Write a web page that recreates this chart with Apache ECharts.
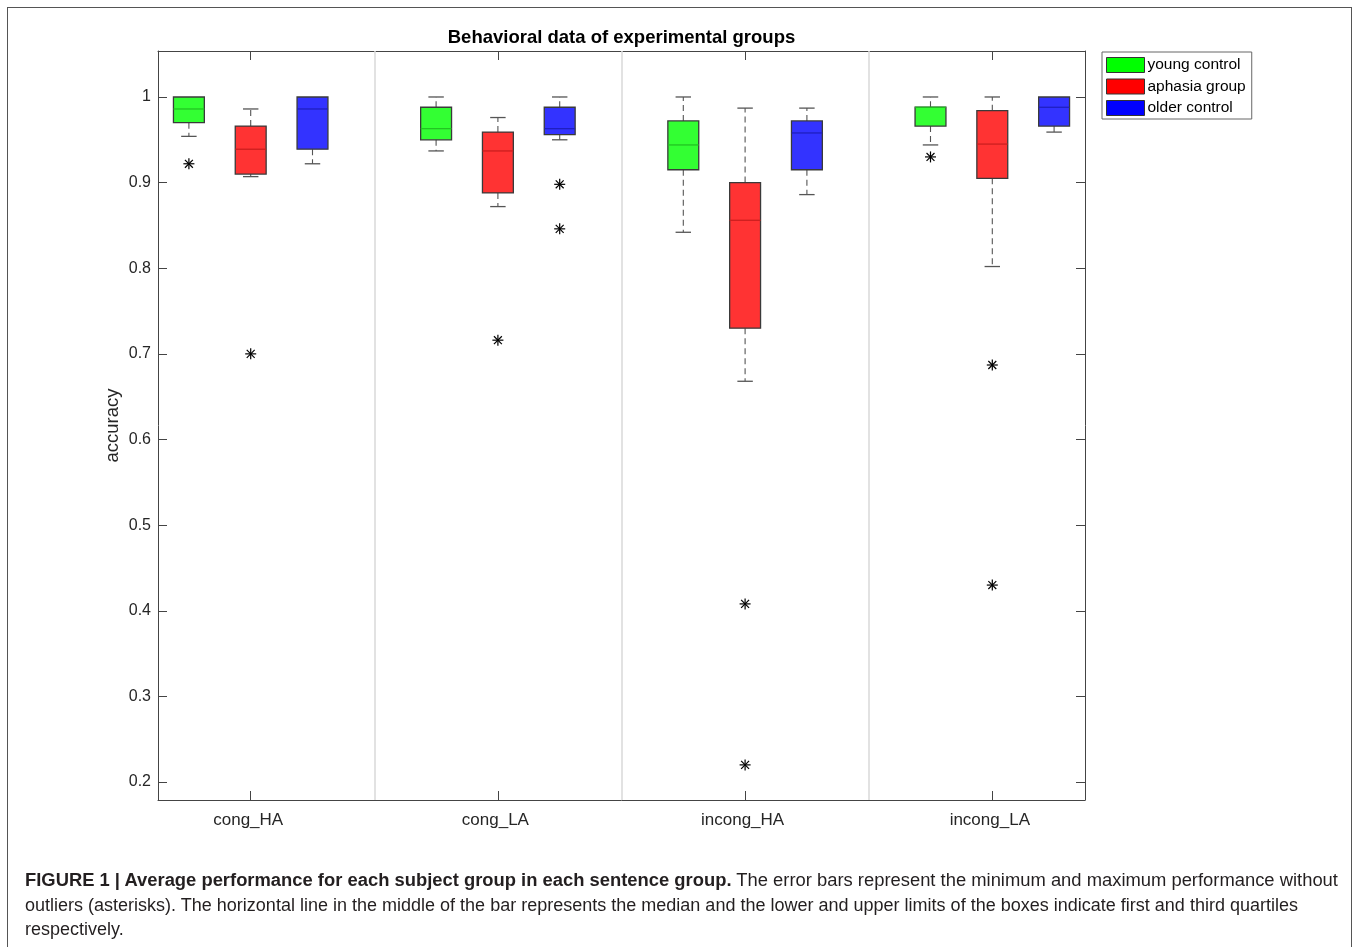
<!DOCTYPE html>
<html>
<head>
<meta charset="utf-8">
<script src="https://cdn.jsdelivr.net/npm/echarts@6/dist/echarts.min.js"></script>
<style>
  html, body { margin:0; padding:0; background:#fff; }
  body { width:1360px; height:947px; position:relative; overflow:hidden; }
  #frame { position:absolute; left:7px; top:7px; width:1345px; height:1000px; border:1px solid #555; box-sizing:border-box; }
  #chart { position:absolute; left:0; top:0; width:1360px; height:947px; }
  #caption { position:absolute; left:25px; top:868px; font-family:"Liberation Sans", Arial, sans-serif; font-size:17.5px; line-height:24.5px; color:#231f20; white-space:nowrap; }
  #caption .ln { display:block; height:24.5px; }
  #caption .ln span { display:inline-block; transform-origin:0 50%; }
</style>
</head>
<body>
<div id="frame"></div>
<div id="chart"></div>
<div id="caption">
  <div class="ln"><span><b>FIGURE 1 | Average performance for each subject group in each sentence group.</b> The error bars represent the minimum and maximum performance without</span></div>
  <div class="ln"><span>outliers (asterisks). The horizontal line in the middle of the bar represents the median and the lower and upper limits of the boxes indicate first and third quartiles</span></div>
  <div class="ln"><span>respectively.</span></div>
</div>
<script>
// ---------- data ----------
const categories = ['cong_HA', 'cong_LA', 'incong_HA', 'incong_LA'];
const groupNames = ['young control', 'aphasia group', 'older control'];
const yTicks = [0.2, 0.3, 0.4, 0.5, 0.6, 0.7, 0.8, 0.9, 1];
// per category: [lower whisker, Q1, median, Q3, upper whisker]
const youngControl = [
  [0.954, 0.970, 0.986, 1.000, 1.000],
  [0.937, 0.950, 0.963, 0.988, 1.000],
  [0.842, 0.915, 0.944, 0.972, 1.000],
  [0.944, 0.966, 0.988, 0.988, 1.000]
];
const aphasiaGroup = [
  [0.907, 0.910, 0.939, 0.966, 0.986],
  [0.872, 0.888, 0.937, 0.959, 0.976],
  [0.668, 0.730, 0.856, 0.900, 0.987],
  [0.802, 0.905, 0.945, 0.984, 1.000]
];
const olderControl = [
  [0.922, 0.939, 0.986, 1.000, 1.000],
  [0.950, 0.956, 0.963, 0.988, 1.000],
  [0.886, 0.915, 0.958, 0.972, 0.987],
  [0.959, 0.966, 0.988, 1.000, 1.000]
];
const youngOutliers = [[0.922], [], [], [0.930]];
const aphasiaOutliers = [[0.700], [0.716], [0.408, 0.220], [0.687, 0.430]];
const olderOutliers = [[], [0.898, 0.846], [], []];

// ---------- chart ----------
const groupStats = [youngControl, aphasiaGroup, olderControl];
const groupOutliers = [youngOutliers, aphasiaOutliers, olderOutliers];
const fills = ['#33ff33', '#ff3333', '#3333ff'];
const medianColors = ['#22c422', '#cc1f1f', '#1f1fc0'];
const legendColors = ['#00ff00', '#ff0000', '#0000ff'];
const pos = (ci, gi) => ci * 4 + gi + 1;

function boxSeries(gi) {
  const data = groupStats[gi].map((s, ci) => [pos(ci, gi)].concat(s));
  return {
    type: 'custom',
    name: groupNames[gi],
    itemStyle: { color: legendColors[gi] },
    xAxisIndex: 0, yAxisIndex: 0,
    encode: { x: 0, y: [1, 2, 3, 4, 5] },
    data: data,
    z: 3,
    renderItem: function (params, api) {
      const x = api.value(0);
      const lo = api.value(1), q1 = api.value(2), md = api.value(3), q3 = api.value(4), hi = api.value(5);
      const cx = api.coord([x, q1])[0];
      const yLo = api.coord([x, lo])[1], yQ1 = api.coord([x, q1])[1], yMd = api.coord([x, md])[1];
      const yQ3 = api.coord([x, q3])[1], yHi = api.coord([x, hi])[1];
      const hw = api.size([0.5, 0])[0] / 2;
      const ch = hw / 2;
      const wStyle = { stroke: '#555', lineWidth: 1.1, lineDash: [6, 4] };
      const cStyle = { stroke: '#555', lineWidth: 1.3 };
      const children = [];
      if (hi > q3) {
        children.push({ type: 'line', shape: { x1: cx, y1: yQ3, x2: cx, y2: yHi }, style: wStyle });
        children.push({ type: 'line', shape: { x1: cx - ch, y1: yHi, x2: cx + ch, y2: yHi }, style: cStyle });
      }
      if (lo < q1) {
        children.push({ type: 'line', shape: { x1: cx, y1: yQ1, x2: cx, y2: yLo }, style: wStyle });
        children.push({ type: 'line', shape: { x1: cx - ch, y1: yLo, x2: cx + ch, y2: yLo }, style: cStyle });
      }
      children.push({ type: 'rect', shape: { x: cx - hw, y: yQ3, width: hw * 2, height: yQ1 - yQ3 },
        style: { fill: fills[gi], stroke: '#3a3a3a', lineWidth: 1.3 } });
      children.push({ type: 'line', shape: { x1: cx - hw, y1: yMd, x2: cx + hw, y2: yMd },
        style: { stroke: medianColors[gi], lineWidth: 1.3 } });
      return { type: 'group', children: children };
    }
  };
}

const outlierData = [];
groupOutliers.forEach((arr, gi) => arr.forEach((vals, ci) => vals.forEach(v => outlierData.push([pos(ci, gi), v]))));

const outlierSeries = {
  type: 'custom',
  name: 'outliers',
  xAxisIndex: 0, yAxisIndex: 0,
  encode: { x: 0, y: 1 },
  data: outlierData,
  z: 4,
  renderItem: function (params, api) {
    const p = api.coord([api.value(0), api.value(1)]);
    const r = 5.5, d = r * 0.72;
    const st = { stroke: '#000', lineWidth: 1.2 };
    return { type: 'group', children: [
      { type: 'line', shape: { x1: p[0] - r, y1: p[1], x2: p[0] + r, y2: p[1] }, style: st },
      { type: 'line', shape: { x1: p[0], y1: p[1] - r, x2: p[0], y2: p[1] + r }, style: st },
      { type: 'line', shape: { x1: p[0] - d, y1: p[1] - d, x2: p[0] + d, y2: p[1] + d }, style: st },
      { type: 'line', shape: { x1: p[0] - d, y1: p[1] + d, x2: p[0] + d, y2: p[1] - d }, style: st }
    ] };
  },
  markLine: {
    silent: true, symbol: 'none', label: { show: false }, z: 1,
    lineStyle: { color: '#d9d9d9', type: 'solid', width: 1.5 },
    data: [{ xAxis: 4 }, { xAxis: 8 }, { xAxis: 12 }]
  }
};

const catTicks = categories.map((c, i) => i * 4 + 2);
const font = '"Liberation Sans", Arial, Helvetica, sans-serif';
const axisCol = '#444';

const chart = echarts.init(document.getElementById('chart'), null, { renderer: 'canvas' });
chart.setOption({
  animation: false,
  textStyle: { fontFamily: font },
  grid: { left: 158, right: 275, top: 51, bottom: 147, containLabel: false },
  graphic: [{
    type: 'text', x: 621.5, y: 38,
    style: { text: 'Behavioral data of experimental groups', font: 'bold 18.5px ' + font, fill: '#000',
      textAlign: 'center', textVerticalAlign: 'middle' }
  }],
  legend: {
    left: 1102, top: 52, orient: 'vertical',
    backgroundColor: '#fff', borderColor: '#666', borderWidth: 1,
    padding: [5, 6, 3, 4], itemWidth: 38, itemHeight: 15, itemGap: 5.5,
    textStyle: { fontSize: 15.5, color: '#000', fontFamily: font, padding: [0, 0, 0, -2] },
    data: groupNames.map((n, i) => ({ name: n, icon: 'rect',
      itemStyle: { color: legendColors[i], borderColor: '#333', borderWidth: 1 } }))
  },
  xAxis: [{
    type: 'value', min: 0.5, max: 15.5, position: 'bottom',
    axisLine: { show: true, lineStyle: { color: axisCol, width: 1 } },
    axisTick: { show: true, inside: true, length: 9, customValues: catTicks, lineStyle: { color: axisCol } },
    axisLabel: { show: true, customValues: catTicks, margin: 12, fontSize: 17, color: '#262626', fontFamily: font,
      padding: [0, 5, 0, 0],
      formatter: v => categories[Math.round((v - 2) / 4)] },
    splitLine: { show: false }
  }, {
    type: 'value', min: 0.5, max: 15.5, position: 'top',
    axisLine: { show: true, lineStyle: { color: axisCol, width: 1 } },
    axisTick: { show: true, inside: true, length: 9, customValues: catTicks, lineStyle: { color: axisCol } },
    axisLabel: { show: false }, splitLine: { show: false }
  }],
  yAxis: [{
    type: 'value', min: 0.179, max: 1.0537, position: 'left',
    name: 'accuracy', nameLocation: 'middle', nameRotate: 90, nameGap: 36, nameMoveOverlap: false,
    nameTextStyle: { fontSize: 18.5, color: '#262626', fontFamily: font },
    axisLine: { show: true, lineStyle: { color: axisCol, width: 1 } },
    axisTick: { show: true, inside: true, length: 9, customValues: yTicks, lineStyle: { color: axisCol } },
    axisLabel: { show: true, customValues: yTicks, margin: 7, fontSize: 16, color: '#262626', fontFamily: font,
      formatter: v => (Math.abs(v - 1) < 1e-9 ? '1' : v.toFixed(1)) },
    splitLine: { show: false }
  }, {
    type: 'value', min: 0.179, max: 1.0537, position: 'right',
    axisLine: { show: true, lineStyle: { color: axisCol, width: 1 } },
    axisTick: { show: true, inside: true, length: 9, customValues: yTicks, lineStyle: { color: axisCol } },
    axisLabel: { show: false }, splitLine: { show: false }
  }],
  series: [outlierSeries, boxSeries(0), boxSeries(1), boxSeries(2)]
});

// fit caption lines to the reference line widths
(function () {
  const spans = document.querySelectorAll('#caption .ln span');
  const targets = [1313, 1273];
  const s0 = targets[0] / spans[0].getBoundingClientRect().width;
  const s1 = targets[1] / spans[1].getBoundingClientRect().width;
  spans[0].style.transform = 'scaleX(' + s0.toFixed(4) + ')';
  spans[1].style.transform = 'scaleX(' + s1.toFixed(4) + ')';
  spans[2].style.transform = 'scaleX(' + s1.toFixed(4) + ')';
})();
</script>
</body>
</html>
